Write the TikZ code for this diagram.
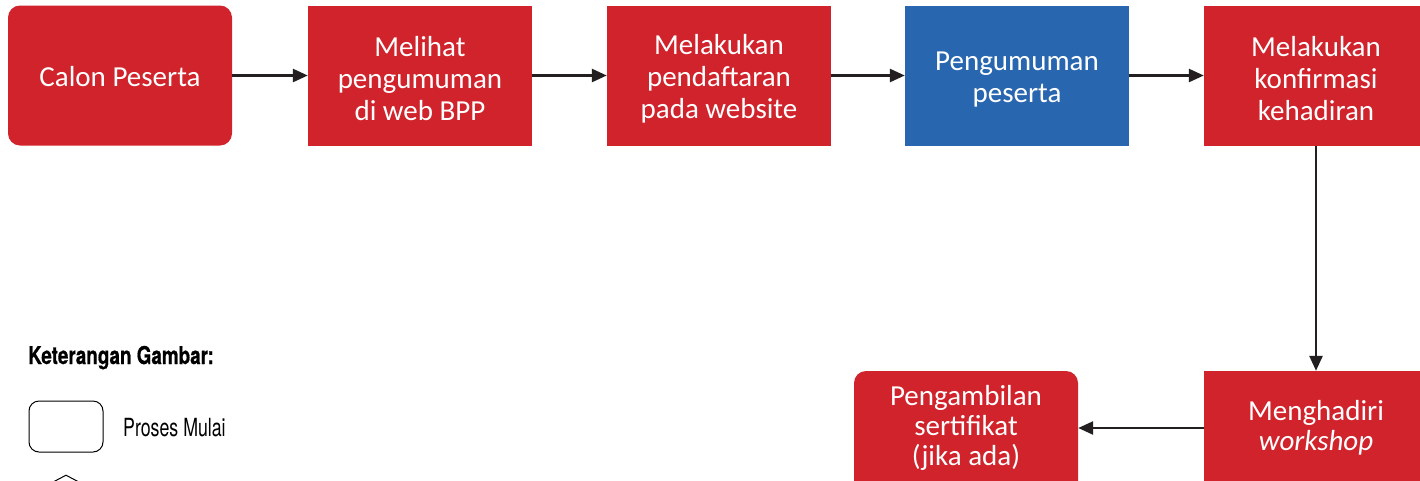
\documentclass[tikz,border=0pt]{standalone}
\usepackage{fontspec}
\setmainfont{Carlito}
\newfontfamily\legbold[FakeStretch=0.77,FakeBold=0.6]{TeX Gyre Heros Bold}
\newfontfamily\legreg[FakeStretch=0.71]{TeX Gyre Heros}
\usetikzlibrary{arrows.meta,shapes.geometric,calc}
\definecolor{boxred}{HTML}{D0232B}
\definecolor{boxblue}{HTML}{2966B0}
\definecolor{arrowc}{HTML}{231F20}
\tikzset{
  procbox/.style={fill=boxred, draw=none, minimum width=224pt, minimum height=140pt, inner sep=0pt},
  startbox/.style={procbox, rounded corners=12pt},
  bluebox/.style={procbox, fill=boxblue},
  boxtext/.style={text=white, align=center, inner sep=0pt, font=\fontsize{29}{32}\selectfont},
  lowtext/.style={boxtext, font=\fontsize{29}{30}\selectfont},
  flow/.style={draw=arrowc, line width=2.6pt, -{Triangle[length=15pt,width=13pt]}},
  legtitle/.style={anchor=base west, inner sep=0pt, font=\legbold\fontsize{24.5}{27}\selectfont},
  legtext/.style={anchor=base west, inner sep=0pt, font=\legreg\fontsize{25}{27}\selectfont},
  legshape/.style={draw=black, line width=1pt, minimum width=74pt, minimum height=51pt, inner sep=0pt}
}
\begin{document}
\begin{tikzpicture}[x=1pt,y=-1pt]
\clip (0,0) rectangle (1420,480);
\fill[white] (0,0) rectangle (1420,480);
% top row
\node[startbox] (c1) at (120,75.5) {};
\node[procbox] (c2) at (420,76) {};
\node[procbox] (c3) at (719,76) {};
\node[bluebox] (c4) at (1017,76) {};
\node[procbox] (c5) at (1316,76) {};
\node[boxtext] (c1t) at ($(c1)+(0,1.5)$) {Calon Peserta};
\node[boxtext] (c2t) at ($(c2)+(0,3)$) {Melihat\\pengumuman\\di web BPP};
\node[boxtext] (c3t) at ($(c3)+(0,3)$) {Melakukan\\pendaftaran\\pada website};
\node[boxtext] (c4t) at ($(c4)+(0,3.5)$) {Pengumuman\\peserta};
\node[boxtext] (c5t) at ($(c5)+(0,3)$) {Melakukan\\konfirmasi\\kehadiran};
% bottom row
\node[procbox] (c6) at (1316,441) {};
\node[lowtext] (c6t) at (1316,428) {Menghadiri\\\textit{workshop}};
\node[startbox] (c7) at (966,441) {};
\node[lowtext] (c7t) at (966,428) {Pengambilan\\sertifikat\\(jika ada)};
% connectors
\draw[flow] (c1.east) -- (c2.west |- c1.east);
\draw[flow] (c2.east |- c1.east) -- (c3.west |- c1.east);
\draw[flow] (c3.east |- c1.east) -- (c4.west |- c1.east);
\draw[flow] (c4.east |- c1.east) -- (c5.west |- c1.east);
\draw[flow] (c5.south) -- (c6.north);
\draw[flow] (c6.west |- c6t) -- (c7.east |- c6t);
% legend
\node[legtitle] (lt) at (28,364) {Keterangan Gambar:};
\node[legshape, rounded corners=10pt] (l1) at (66,426.5) {};
\node[legtext] (l1t) at (123,436.5) {Proses Mulai};
\node[legshape, diamond, minimum height=39pt] (l2) at (66,494.5) {};
\end{tikzpicture}
\end{document}
